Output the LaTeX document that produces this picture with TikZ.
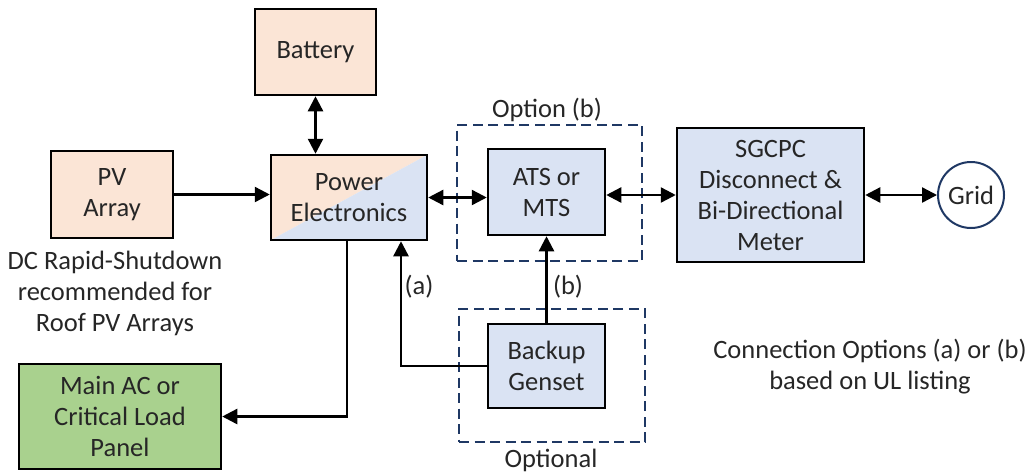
\documentclass[tikz,border=0pt]{standalone}
\usepackage{fontspec}
\setmainfont{Carlito}
\usetikzlibrary{arrows.meta}
\definecolor{pvPeach}{HTML}{FBE5D6}
\definecolor{pvBlue}{HTML}{DAE3F3}
\definecolor{pvGreen}{HTML}{A9D18E}
\definecolor{pvNavy}{HTML}{1F3864}
\definecolor{pvText}{HTML}{262626}

\begin{document}
\begin{tikzpicture}[x=1pt,y=-1pt,
  every node/.style={text=pvText, font=\fontsize{26.5}{31}\selectfont},
  blk/.style={draw=black, line width=2.5pt, inner sep=0pt, align=center},
  optbox/.style={draw=pvNavy, line width=2.5pt, dash pattern=on 10pt off 5.5pt, inner sep=0pt},
  link/.style={line width=2.4pt, -{Triangle[length=15pt,width=15pt]}},
  biLink/.style={line width=2.4pt, {Triangle[length=15pt,width=15pt]}-{Triangle[length=15pt,width=15pt]}},
  lbl/.style={inner sep=0pt, align=center}]
\useasboundingbox (0,0) rectangle (1032,475);
\node[optbox, minimum width=185pt, minimum height=136pt] (optB) at (549.5,193) {};
\node[optbox, minimum width=186pt, minimum height=133pt] (optG) at (552,375.5) {};
\node[blk, fill=pvPeach, minimum width=121pt, minimum height=86pt] (bat) at (315.5,52) {Battery};
\node[blk, fill=pvPeach, minimum width=122pt, minimum height=87pt] (pv) at (112,194.5) {PV\\Array};
\node[blk, minimum width=156pt, minimum height=85pt,
  path picture={
    \fill[pvPeach] (path picture bounding box.south west) -- (path picture bounding box.north west) -- (path picture bounding box.north east) -- cycle;
    \fill[pvBlue] (path picture bounding box.south west) -- (path picture bounding box.south east) -- (path picture bounding box.north east) -- cycle;
  }] (pe) at (349,197.5) {Power\\Electronics};
\node[blk, fill=pvBlue, minimum width=117pt, minimum height=86pt] (ats) at (546.5,192) {ATS or\\MTS};
\node[blk, fill=pvBlue, minimum width=187pt, minimum height=134pt] (sg) at (770.5,195) {SGCPC\\Disconnect \&\\Bi-Directional\\Meter};
\node[circle, draw=pvNavy, line width=2pt, fill=white, minimum size=66pt, inner sep=0pt] (grid) at (971,195) {Grid};
\node[blk, fill=pvBlue, minimum width=117pt, minimum height=84pt] (gen) at (546.5,366) {Backup\\Genset};
\node[blk, fill=pvGreen, minimum width=202pt, minimum height=105pt] (main) at (120,416.5) {Main AC or\\Critical Load\\Panel};
\node[lbl] (optBLbl) at (547,110) {Option (b)};
\node[lbl] (optGLbl) at (551,460) {Optional};
\node[lbl] (pvNote) at (115,293) {DC Rapid-Shutdown\\recommended for\\Roof PV Arrays};
\node[lbl] (connNote) at (870,367) {Connection Options (a) or (b)\\based on UL listing};
\node[lbl] (aLbl) at (419,287) {(a)};
\node[lbl] (bLbl) at (568,287) {(b)};
\coordinate (aBend) at (401,366);
\coordinate (loadTap) at (347,416.5);
\draw[biLink] (bat.south) -- (bat.south |- pe.north);
\draw[link] (pv.east) -- (pv.east -| pe.west);
\draw[biLink] (pe.east) -- (pe.east -| ats.west);
\draw[biLink] (ats.east |- sg.west) -- (sg.west);
\draw[biLink] (sg.east) -- (grid.west);
\draw[link] (gen.north) -- (ats.south);
\draw[link] (gen.west) -- (aBend) -- (aBend |- pe.south);
\draw[link] (loadTap |- pe.south) -- (loadTap) -- (main.east);
\end{tikzpicture}
\end{document}
